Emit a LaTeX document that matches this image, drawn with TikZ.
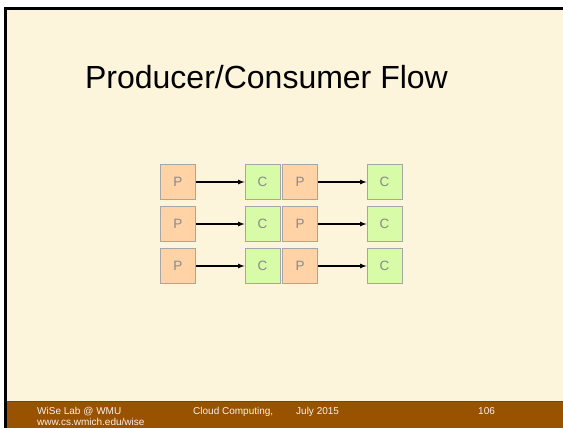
\documentclass[tikz,border=0pt]{standalone}
\usepackage{fontspec}
\setmainfont{Liberation Sans}
\definecolor{slidebg}{HTML}{FCF5DC}
\definecolor{barbrown}{HTML}{995200}
\definecolor{barline}{HTML}{5E4A2C}
\definecolor{prodfill}{HTML}{FFD3A6}
\definecolor{consfill}{HTML}{D7FBA6}
\definecolor{boxedge}{HTML}{A6A6A6}
\definecolor{boxtext}{HTML}{8A8A8A}
\begin{document}
\begin{tikzpicture}[x=1pt,y=-1pt,
  cell/.style={draw=boxedge,line width=1pt,minimum width=35pt,minimum height=35pt,
    inner sep=0pt,text=boxtext,font=\fontsize{13.5}{15}\selectfont},
  prod/.style={cell,fill=prodfill},
  cons/.style={cell,fill=consfill},
  flow/.style={-latex,line width=1.2pt,black},
  foot/.style={text=white!92!barbrown,font=\fontsize{10}{11}\selectfont,anchor=base west,inner sep=0pt}]
\useasboundingbox (0,0) rectangle (563,428);
% page and slide frame
\fill[white] (0,0) rectangle (563,428);
\fill[black] (4,7) rectangle (563,428);
\fill[slidebg] (7,10) rectangle (563,428);
% footer bar
\fill[barbrown] (7,401) rectangle (563,428);
\draw[barline,line width=1.5pt] (7,401.5) -- (563,401.5);
% title
\node[font=\fontsize{32}{36}\selectfont,anchor=base] (title) at (266.5,89) {Producer/Consumer Flow};
% producer/consumer rows
\foreach \r/\y in {1/182,2/224,3/266}{
  \node[prod] (pa\r) at (178,\y) {P};
  \node[cons] (ca\r) at (262.5,\y) {C};
  \node[prod] (pb\r) at (300,\y) {P};
  \node[cons] (cb\r) at (384.5,\y) {C};
  \draw[flow] (pa\r) -- (ca\r);
  \draw[flow] (pb\r) -- (cb\r);
}
% footer text
\node[foot] (lab) at (37,414) {WiSe Lab @ WMU};
\node[foot] (url) at (37,425) {www.cs.wmich.edu/wise};
\node[foot] (course) at (193,414) {Cloud Computing,};
\node[foot] (date) at (296,414) {July 2015};
\node[foot] (page) at (478,414) {106};
\end{tikzpicture}
\end{document}
